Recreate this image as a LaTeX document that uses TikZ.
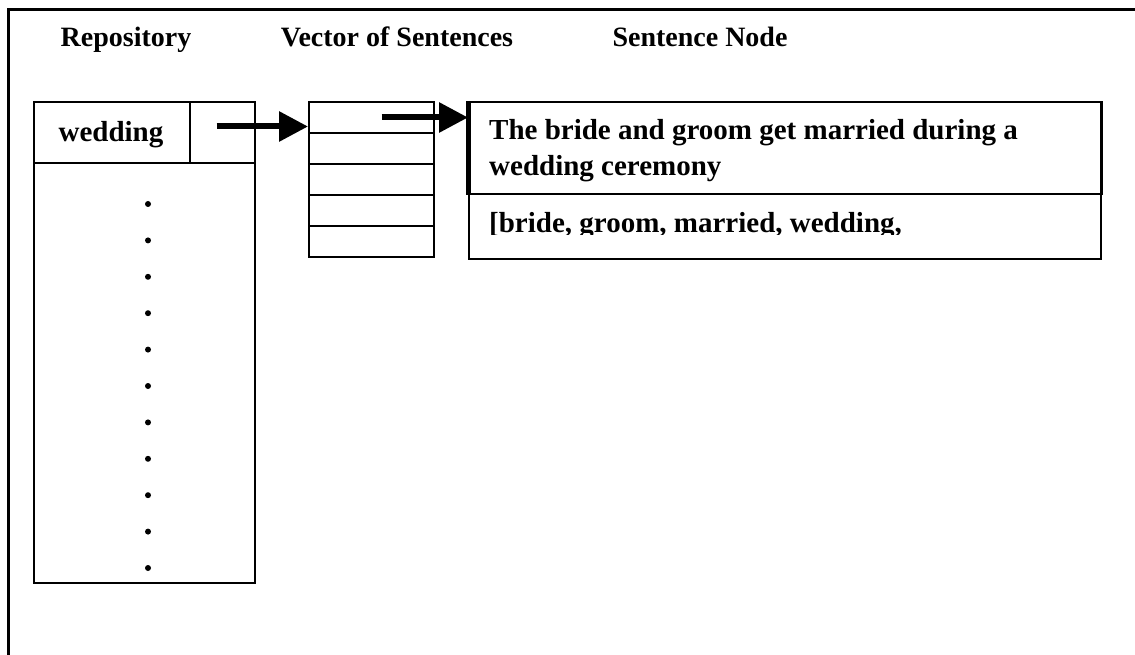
\documentclass[tikz,border=0pt]{standalone}
\usepackage{fontspec}
\setmainfont{Liberation Serif}
\usetikzlibrary{arrows.meta}

\begin{document}
\begin{tikzpicture}[x=1pt,y=-1pt,
  hdr/.style={font=\fontsize{28}{30}\selectfont\bfseries, inner sep=0pt},
  txt/.style={font=\fontsize{29}{31}\selectfont\bfseries, inner sep=0pt},
  cell/.style={draw, line width=2pt, inner sep=0pt, anchor=north west},
  ptrarrow/.style={line width=6pt, -{Triangle[length=29pt,width=29pt]}},
  dot/.style={fill=black}
]
\useasboundingbox (0,0) rectangle (1135,655);
\fill[white] (0,0) rectangle (1135,655);

% open outer frame: left and top edges only
\draw[line width=3pt] (8,655) -- (8,10) -- (1135,10);

% column headings
\node[hdr, anchor=base] (hrepo) at (126,47) {Repository};
\node[hdr, anchor=base] (hvec)  at (397,47) {Vector of Sentences};
\node[hdr, anchor=base] (hsent) at (700,47) {Sentence Node};

% repository table
\node[cell, minimum width=221pt, minimum height=481pt] (repo) at (33,101) {};
\node[cell, minimum width=156pt, minimum height=61pt] (key) at (33,101) {};
\node[cell, minimum width=65pt, minimum height=61pt] (ptr) at (189,101) {};
\node[txt, anchor=base] (keytxt) at (111,142) {wedding};
\foreach \i in {0,...,10}
  \fill[dot] (148,{204+36.4*\i}) circle[radius=3pt];

% vector of sentences
\node[cell, minimum width=125pt, minimum height=31pt] (v1) at (308,101) {};
\node[cell, minimum width=125pt, minimum height=31pt] (v2) at (308,132) {};
\node[cell, minimum width=125pt, minimum height=31pt] (v3) at (308,163) {};
\node[cell, minimum width=125pt, minimum height=31pt] (v4) at (308,194) {};
\node[cell, minimum width=125pt, minimum height=31pt] (v5) at (308,225) {};

% sentence node
\node[cell, line width=2.5pt, minimum width=632pt, minimum height=92pt] (stext) at (468,101) {};
\node[cell, minimum width=632pt, minimum height=65pt] (skeys) at (468,193) {};
\draw[line width=4pt] (stext.north west) -- (stext.south west);
\node[txt, anchor=base west] (sl1) at (489,140) {The bride and groom get married during a};
\node[txt, anchor=base west] (sl2) at (489,176) {wedding ceremony};
\begin{scope}
  \clip (470,195) rectangle (1098,235);
  \node[txt, anchor=base west] (sl3) at (489,233) {[bride, groom, married, wedding,};
\end{scope}

% pointers
\draw[ptrarrow] ([xshift=-6pt,yshift=6pt]ptr.center) -- ([yshift=6pt]ptr.center -| v1.west);
\draw[ptrarrow] ([xshift=10pt]v1.center) -- (v1.center -| stext.west);
\end{tikzpicture}
\end{document}
